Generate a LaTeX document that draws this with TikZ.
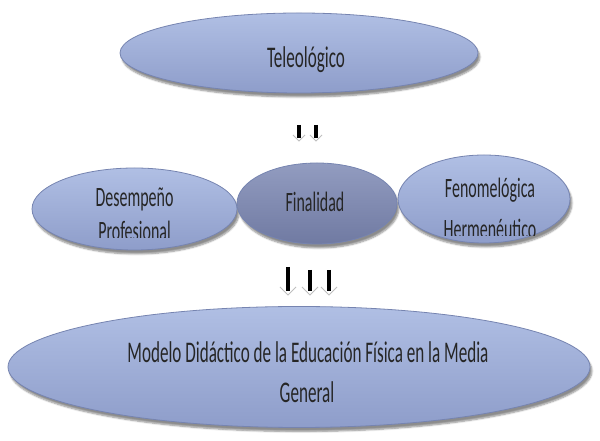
\documentclass[tikz,border=0pt]{standalone}
\usepackage{fontspec}
\newfontfamily\cf[FakeStretch=0.57]{Carlito}
\usetikzlibrary{shapes.geometric,shadows.blur}
\definecolor{lighttop}{RGB}{176,191,228}
\definecolor{lightbot}{RGB}{142,157,202}
\definecolor{darktop}{RGB}{146,156,192}
\definecolor{darkbot}{RGB}{112,122,162}
\definecolor{edgeblue}{RGB}{118,132,176}
\tikzset{
  oval/.style={ellipse, inner sep=0pt, draw=edgeblue, line width=0.8pt,
    top color=lighttop, bottom color=lightbot,
    blur shadow={shadow xshift=2pt, shadow yshift=-4pt, shadow blur steps=6, shadow opacity=45}},
  darkoval/.style={oval, top color=darktop, bottom color=darkbot},
  lbl/.style={anchor=base, inner sep=0pt, text=black!85},
}
\newcommand\dnarrow[5]{% name, x, ytop, ytip, size
  \coordinate (#1-top) at (#2,#3);
  \coordinate (#1-tip) at (#2,#4);
  \fill[white] (#2-#5,#4+#5) -- (#1-tip) -- (#2+#5,#4+#5) -- cycle;
  \draw[gray!50, line width=1pt, line join=miter] (#2-#5,#4+#5) -- (#1-tip) -- (#2+#5,#4+#5);
  \draw[black, line width=0.55*#5pt] (#1-top) -- (#2,#4+0.45*#5);
}
\begin{document}
\begin{tikzpicture}[x=1pt,y=1pt]
\useasboundingbox (0,0) rectangle (600,441);
% top
\node[oval, minimum width=358pt, minimum height=80pt] (tele) at (299,388) {};
\node[lbl, font=\cf\fontsize{30}{32}\selectfont] (teletext) at (306,373) {Teleológico};
% small arrows
\dnarrow{sa1}{299}{316}{300}{6}
\dnarrow{sa2}{316}{316}{300}{6}
% middle row
\node[oval, minimum width=205pt, minimum height=82pt] (des) at (134.5,232) {};
\node[darkoval, minimum width=160pt, minimum height=81pt] (fin) at (317,237.5) {};
\node[oval, minimum width=172pt, minimum height=88pt] (fen) at (484,242) {};
\node[lbl, font=\cf\fontsize{28}{30}\selectfont] (destext) at (134.5,234) {Desempeño};
\begin{scope}
\clip (30,203) rectangle (240,230);
\node[lbl, font=\cf\fontsize{28}{30}\selectfont] (destext2) at (134.5,200) {Profesional};
\end{scope}
\node[lbl, font=\cf\fontsize{28}{30}\selectfont] (fintext) at (315,229) {Finalidad};
\node[lbl, font=\cf\fontsize{28}{30}\selectfont] (fentext) at (490,243) {Fenomelógica};
\begin{scope}
\clip (400,205) rectangle (570,232);
\node[lbl, font=\cf\fontsize{28}{30}\selectfont] (fentext2) at (490,202) {Hermenéutico};
\end{scope}
% big arrows
\dnarrow{ba1}{288}{174}{146}{8}
\dnarrow{ba2}{310}{171}{146}{8}
\dnarrow{ba3}{329}{171}{146}{8}
% bottom
\node[oval, minimum width=582pt, minimum height=121pt] (mod) at (299,74) {};
\node[lbl, font=\cf\fontsize{30}{32}\selectfont] (modtext) at (308,78) {Modelo Didáctico de la Educación Física en la Media};
\node[lbl, font=\cf\fontsize{30}{32}\selectfont] (modtext2) at (307,38) {General};
\end{tikzpicture}
\end{document}
